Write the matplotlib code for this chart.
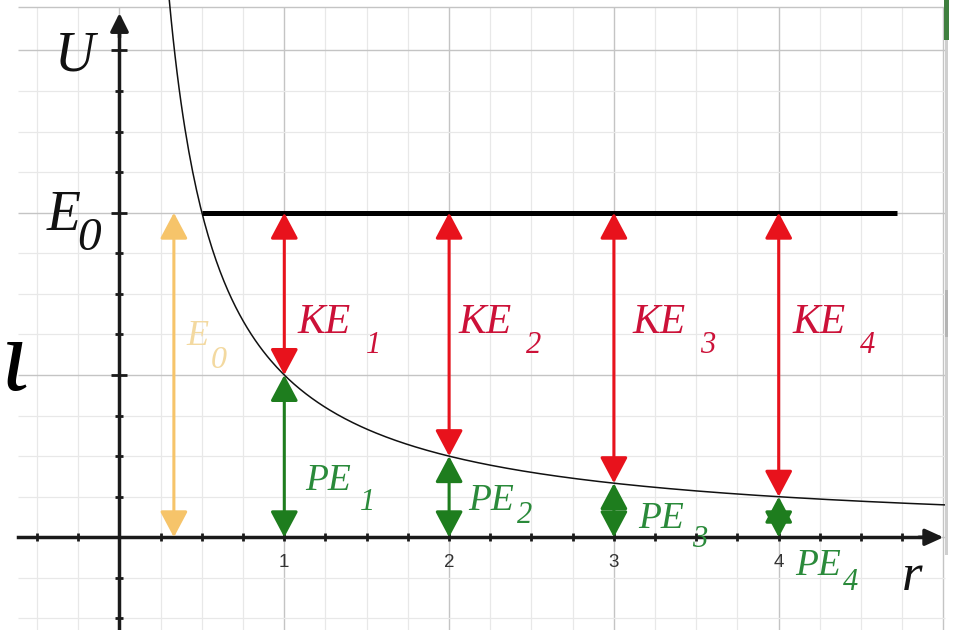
import numpy as np
import matplotlib
matplotlib.use('Agg')
import matplotlib.pyplot as plt
from matplotlib.patches import Rectangle

# energy diagram: U = 1/r with total energy E0 = 2
E0 = 2.0
r_pts = [1, 2, 3, 4]
U_pts = [1.0, 0.5, 1/3, 0.25]
r_e0 = 0.33          # where the E0 double arrow sits
r_line_end = 4.72    # right end of the E0 level
tick_lbls = ['1', '2', '3', '4']

red = '#e8121c'
red_txt = '#cc1138'
green = '#1e7d1e'
green_txt = '#2a8a3a'
yel = '#f6c46a'
yel_txt = '#f3d9a0'
serif = ['Liberation Serif', 'DejaVu Serif']

fig = plt.figure(figsize=(9.55, 6.3), dpi=100)
ax = fig.add_axes([0, 0, 1, 1])
ax.set_xlim(-0.7251, 5.0698)
ax.set_ylim(-0.5712, 3.3105)

# graph paper
gx0, gx1, gy0, gy1 = -0.616, 5.01, -0.5712, 3.27
for xv in np.arange(-0.5, 5.01, 0.25):
    major = abs(xv - round(xv)) < 1e-9
    ax.vlines(xv, gy0, gy1, colors='#c4c4c4' if major else '#e8e8e8',
              lw=1.0 if major else 0.9, zorder=0)
for yv in list(np.arange(-0.5, 3.01, 0.25)) + [gy1]:
    major = abs(yv - round(yv)) < 1e-9 or yv > 3.2
    ax.hlines(yv, gx0, gx1, colors='#c4c4c4' if major else '#e8e8e8',
              lw=1.0 if major else 0.9, zorder=0)

# axes through the origin
for s in ['top', 'right']:
    ax.spines[s].set_visible(False)
ax.spines['bottom'].set_position(('data', 0))
ax.spines['left'].set_position(('data', 0))
ax.spines['bottom'].set_bounds(gx0, 4.93)
ax.spines['left'].set_bounds(gy0, 3.15)
for s in ['bottom', 'left']:
    ax.spines[s].set_linewidth(2.5)
    ax.spines[s].set_color('#1a1a1a')
    ax.spines[s].set_zorder(2)

ax.set_xticks(r_pts)
ax.set_xticklabels(tick_lbls, fontsize=13.5, color='#333333', family='Liberation Sans')
ax.set_xticks(np.arange(-0.5, 4.8, 0.25), minor=True)
ax.set_yticks([1, 2, 3])
ax.set_yticklabels([])
ax.set_yticks(np.arange(-0.5, 3.01, 0.25), minor=True)
ax.tick_params(axis='x', which='both', direction='inout', length=6, width=2,
               color='#1a1a1a', pad=9)
ax.tick_params(axis='y', which='minor', direction='inout', length=6, width=2, color='#1a1a1a')
ax.tick_params(axis='y', which='major', direction='inout', length=11, width=2, color='#1a1a1a')

ax.annotate('', xy=(5.0, 0), xytext=(4.85, 0),
            arrowprops=dict(arrowstyle='-|>,head_length=11,head_width=5', mutation_scale=1,
                            lw=2.5, color='#1a1a1a', shrinkA=0, shrinkB=0), zorder=3)
ax.annotate('', xy=(0, 3.23), xytext=(0, 3.08),
            arrowprops=dict(arrowstyle='-|>,head_length=11,head_width=5.5', mutation_scale=1,
                            lw=2.5, color='#1a1a1a', shrinkA=0, shrinkB=0), zorder=3)

# potential curve and energy level
r = np.linspace(0.29, 5.02, 400)
ax.plot(r, 1 / r, color='#111111', lw=1.1, zorder=4)
ax.plot([1 / E0, r_line_end], [E0, E0], color='black', lw=3.6, solid_capstyle='butt', zorder=4)


def dbl_arrow(x, y0, y1, color):
    ax.annotate('', xy=(x, y1), xytext=(x, y0),
                arrowprops=dict(arrowstyle='<|-|>,head_length=16,head_width=8.5',
                                mutation_scale=1, lw=2.2, color=color,
                                shrinkA=0, shrinkB=0), zorder=5)


dbl_arrow(r_e0, 0, E0, yel)
for rp, up in zip(r_pts, U_pts):
    dbl_arrow(rp, up, E0, red)
    dbl_arrow(rp, 0, up, green)


def label(x, y, main, sub, dx, dy, color, size, subsize):
    ax.text(x, y, main, color=color, fontsize=size, family=serif, style='italic',
            ha='left', va='baseline', zorder=6)
    ax.text(x + dx, y + dy, sub, color=color, fontsize=subsize, family=serif,
            style='italic', ha='left', va='baseline', zorder=6)


ax.text(-0.391, 2.877, 'U', fontsize=40, family=serif, style='italic',
        ha='left', va='baseline', color='#111111')
label(-0.440, 1.892, 'E', '0', 0.186, -0.122, '#111111', 40, 34)
label(0.405, 1.185, 'E', '0', 0.150, -0.142, yel_txt, 26, 23)

ke_x = [1.083, 2.054, 3.110, 4.081]
for i, xk in enumerate(ke_x):
    label(xk, 1.258, 'KE', str(i + 1), 0.412, -0.123, red_txt, 30, 22)

pe_pos = [(1.126, 0.291), (2.114, 0.168), (3.146, 0.057), (4.099, -0.232)]
pe_sub = [(0.334, -0.123), (0.298, -0.080), (0.328, -0.117), (0.291, -0.093)]
for i, ((xp, yp), (dx, dy)) in enumerate(zip(pe_pos, pe_sub)):
    label(xp, yp, 'PE', str(i + 1), dx, dy, green_txt, 27, 22)

ax.text(4.745, -0.325, 'r', fontsize=38, family=serif, style='italic',
        ha='left', va='baseline', color='#111111')
ax.text(-0.72, 0.905, 'ι', fontsize=74, family=serif, style='italic',
        ha='left', va='baseline', color='#000000')

# scroll bar strip on the right edge
W, H = 955, 630
fig.add_artist(Rectangle((945 / W, 1 - 555 / H), 3 / W, 555 / H,
                         transform=fig.transFigure, color='#cfcfcf', lw=0))
fig.add_artist(Rectangle((945 / W, 1 - 337 / H), 3 / W, 47 / H,
                         transform=fig.transFigure, color='#b4b4b4', lw=0))
fig.add_artist(Rectangle((944 / W, 1 - 40 / H), 5 / W, 40 / H,
                         transform=fig.transFigure, color='#3f7f3f', lw=0))

fig.savefig('out.png', dpi=100)
